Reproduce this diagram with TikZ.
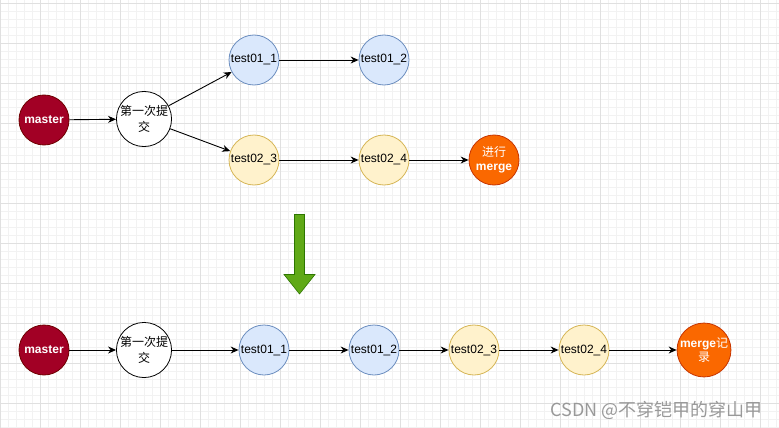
\documentclass[tikz,border=0pt]{standalone}
\usepackage{fontspec}
\setmainfont{Liberation Sans}
\newfontfamily\cjk{Noto Sans CJK SC}
\usetikzlibrary{arrows.meta, positioning}

\definecolor{masterred}{HTML}{A20025}
\definecolor{masterline}{HTML}{6F0000}
\definecolor{blue01}{HTML}{DAE8FC}
\definecolor{blue01line}{HTML}{6C8EBF}
\definecolor{yellow02}{HTML}{FFF2CC}
\definecolor{yellow02line}{HTML}{D6B656}
\definecolor{mergeorange}{HTML}{FA6800}
\definecolor{mergeline}{HTML}{C73500}
\definecolor{downgreen}{HTML}{60A917}
\definecolor{downgreenline}{HTML}{2D7600}

\tikzset{
  commit/.style={circle, draw, line width=0.8pt, minimum size=50pt, inner sep=0pt, align=center},
  master/.style={commit, fill=masterred, draw=masterline, text=white, font=\fontsize{12}{16}\selectfont\bfseries},
  first/.style={commit, fill=white, draw=black},
  branch01/.style={commit, fill=blue01, draw=blue01line},
  branch02/.style={commit, fill=yellow02, draw=yellow02line},
  mergenode/.style={commit, fill=mergeorange, draw=mergeline, text=white, font=\fontsize{12}{14}\selectfont\bfseries},
  link/.style={-{Stealth[length=8pt, width=7pt]}, line width=0.9pt},
}

\begin{document}
\begin{tikzpicture}[x=1pt, y=-1pt, font=\fontsize{12}{16}\selectfont]
  \useasboundingbox (0,0) rectangle (779,428);
  \fill[white] (0,0) rectangle (779,428);
  % background grid
  \foreach \x in {0,8,...,776} \draw[black!5, line width=0.5pt] (\x,0) -- (\x,428);
  \foreach \y in {3,11,...,427} \draw[black!5, line width=0.5pt] (0,\y) -- (779,\y);
  \foreach \x in {0,40,...,760} \draw[black!12, line width=0.8pt] (\x,0) -- (\x,428);
  \foreach \y in {3,43,...,403} \draw[black!12, line width=0.8pt] (0,\y) -- (779,\y);

  % before merge
  \node[master] (m) at (44,120) {master};
  \node[first] (c1) at (144,119) {\cjk 第一次提\\\cjk 交};
  \node[branch01] (t11) at (254,60) {test01\_1};
  \node[branch01] (t12) at (384,60) {test01\_2};
  \node[branch02] (t23) at (254,160) {test02\_3};
  \node[branch02] (t24) at (384,160) {test02\_4};
  \node[mergenode] (mg) at (494,160) {{\cjk\mdseries 进行}\\merge};

  \draw[link] (m) -- (c1);
  \draw[link] (c1) -- (t11);
  \draw[link] (c1) -- (t23);
  \draw[link] (t11) -- (t12);
  \draw[link] (t23) -- (t24);
  \draw[link] (t24) -- (mg);

  % down arrow
  \filldraw[fill=downgreen, draw=downgreenline, line width=0.6pt]
    (294.5,214.5) -- (304.5,214.5) -- (304.5,274.5) -- (315,274.5)
    -- (299.5,294) -- (284,274.5) -- (294.5,274.5) -- cycle;

  % after merge
  \node[master] (bm) at (44,350) {master};
  \node[first] (bc1) at (144,350) {\cjk 第一次提\\\cjk 交};
  \node[branch01] (bt11) at (264,350) {test01\_1};
  \node[branch01] (bt12) at (374,350) {test01\_2};
  \node[branch02] (bt23) at (474,350) {test02\_3};
  \node[branch02] (bt24) at (584,350) {test02\_4};
  \node[mergenode] (bmg) at (704,350) {merge{\cjk\mdseries 记}\\{\cjk\mdseries 录}};

  \draw[link] (bm) -- (bc1);
  \draw[link] (bt11) -- (bt12) ;
  \draw[link] (bc1) -- (bt11);
  \draw[link] (bt12) -- (bt23);
  \draw[link] (bt23) -- (bt24);
  \draw[link] (bt24) -- (bmg);

  \node[anchor=east, text=black!40, font=\cjk\fontsize{18}{20}\selectfont] (wm) at (766,410) {CSDN @不穿铠甲的穿山甲};
\end{tikzpicture}
\end{document}
